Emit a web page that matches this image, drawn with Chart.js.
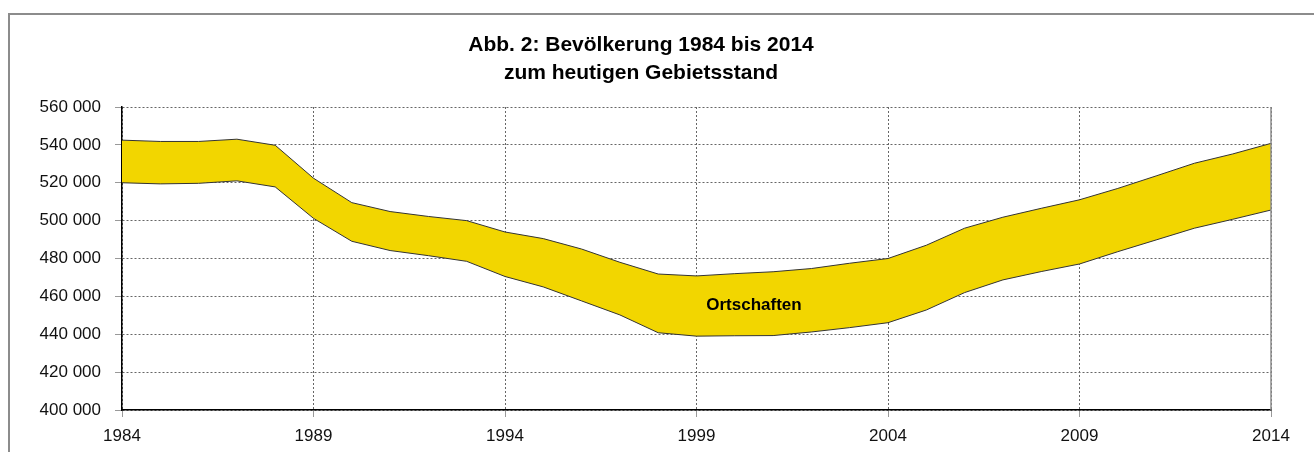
<!DOCTYPE html>
<html>
<head>
<meta charset="utf-8">
<script src="https://cdn.jsdelivr.net/npm/chart.js@4"></script>
<style>
  html, body { margin: 0; padding: 0; background: #fff; }
  #wrap { position: relative; width: 1314px; height: 452px; overflow: hidden; }
  #frame { position: absolute; left: 8px; top: 13px; width: 1400px; height: 500px;
           border-left: 2px solid #8c8c8c; border-top: 2px solid #8c8c8c; }
  canvas { position: absolute; left: 0; top: 0; }
</style>
</head>
<body>
<div id="wrap">
  <div id="frame"></div>
  <canvas id="popChart" width="1314" height="452"></canvas>
</div>
<script>
// Bevölkerung: untere und obere Kante des Bandes "Ortschaften"
const years = [1984, 1985, 1986, 1987, 1988, 1989, 1990, 1991, 1992, 1993, 1994,
  1995, 1996, 1997, 1998, 1999, 2000, 2001, 2002, 2003, 2004,
  2005, 2006, 2007, 2008, 2009, 2010, 2011, 2012, 2013, 2014];
const lower = [520000, 519400, 519700, 521000, 517800, 501200, 489100, 484200, 481500, 478500, 470500,
  465000, 457600, 450200, 440800, 439000, 439200, 439300, 441200, 443500, 446100,
  452800, 462000, 468700, 473100, 477100, 483600, 489800, 496000, 500700, 505600];
const upper = [542500, 541800, 541800, 543000, 539800, 522400, 509500, 504800, 502200, 500000, 494000,
  490500, 485000, 478000, 471800, 470800, 472000, 473000, 474700, 477500, 480000,
  487000, 496000, 501800, 506500, 511000, 517000, 523600, 530300, 535200, 540800];
const xTicks = [1984, 1989, 1994, 1999, 2004, 2009, 2014];
const yMin = 400000, yMax = 560000, yStep = 20000;
const titleLines = ['Abb. 2: Bevölkerung 1984 bis 2014', 'zum heutigen Gebietsstand'];
const bandLabel = { text: 'Ortschaften', year: 2000.5, value: 455500 };

const FONT = "'Liberation Sans', Arial, sans-serif";
Chart.defaults.font.family = FONT;
Chart.defaults.color = '#111';

const fmt = v => String(v).replace(/\B(?=(\d{3})+(?!\d))/g, ' ');

const titleAndFrame = {
  id: 'titleAndFrame',
  afterDraw(chart) {
    const ctx = chart.ctx;
    const a = chart.chartArea;
    ctx.save();
    // rechte Rahmenlinie
    ctx.strokeStyle = '#8c8c8c';
    ctx.lineWidth = 1.5;
    ctx.beginPath();
    ctx.moveTo(a.right, a.top);
    ctx.lineTo(a.right, a.bottom);
    ctx.stroke();
    // Titel
    ctx.fillStyle = '#000';
    ctx.textAlign = 'center';
    ctx.textBaseline = 'middle';
    ctx.font = 'bold 21px ' + FONT;
    titleLines.forEach((t, i) => ctx.fillText(t, 641, 45 + i * 28));
    // Bandbeschriftung
    const x = chart.scales.x.getPixelForValue(bandLabel.year);
    const y = chart.scales.y.getPixelForValue(bandLabel.value);
    ctx.font = 'bold 17px ' + FONT;
    ctx.fillText(bandLabel.text, x, y);
    ctx.restore();
  }
};

new Chart(document.getElementById('popChart').getContext('2d'), {
  type: 'line',
  data: {
    datasets: [{
      label: 'untere Kante',
      data: years.map((y, i) => ({ x: y, y: lower[i] })),
      borderColor: '#333',
      borderWidth: 1,
      pointRadius: 0,
      fill: false,
      tension: 0
    }, {
      label: 'Ortschaften',
      data: years.map((y, i) => ({ x: y, y: upper[i] })),
      borderColor: '#333',
      borderWidth: 1,
      backgroundColor: '#f2d600',
      pointRadius: 0,
      fill: '-1',
      tension: 0
    }]
  },
  options: {
    responsive: false,
    animation: false,
    layout: { padding: { top: 107, left: 0, right: 43, bottom: 0 } },
    plugins: {
      legend: { display: false },
      tooltip: { enabled: false },
      title: { display: false }
    },
    scales: {
      x: {
        type: 'linear',
        min: years[0],
        max: years[years.length - 1],
        afterBuildTicks: axis => { axis.ticks = xTicks.map(v => ({ value: v })); },
        afterFit: scale => { scale.height = 42; },
        ticks: { font: { size: 17 }, padding: 9, maxRotation: 0, callback: v => String(v) },
        grid: { color: '#666', lineWidth: 1, tickLength: 7, tickColor: '#999' },
        border: { color: '#000', width: 1.5, dash: [2, 2] }
      },
      y: {
        min: yMin,
        max: yMax,
        afterFit: scale => { scale.width = 122; },
        ticks: { stepSize: yStep, font: { size: 17 }, padding: 14, callback: v => fmt(v) },
        grid: { color: '#666', lineWidth: 1, tickLength: 7, tickColor: '#999' },
        border: { color: '#000', width: 1.5, dash: [2, 2] }
      }
    }
  },
  plugins: [titleAndFrame]
});
</script>
</body>
</html>
